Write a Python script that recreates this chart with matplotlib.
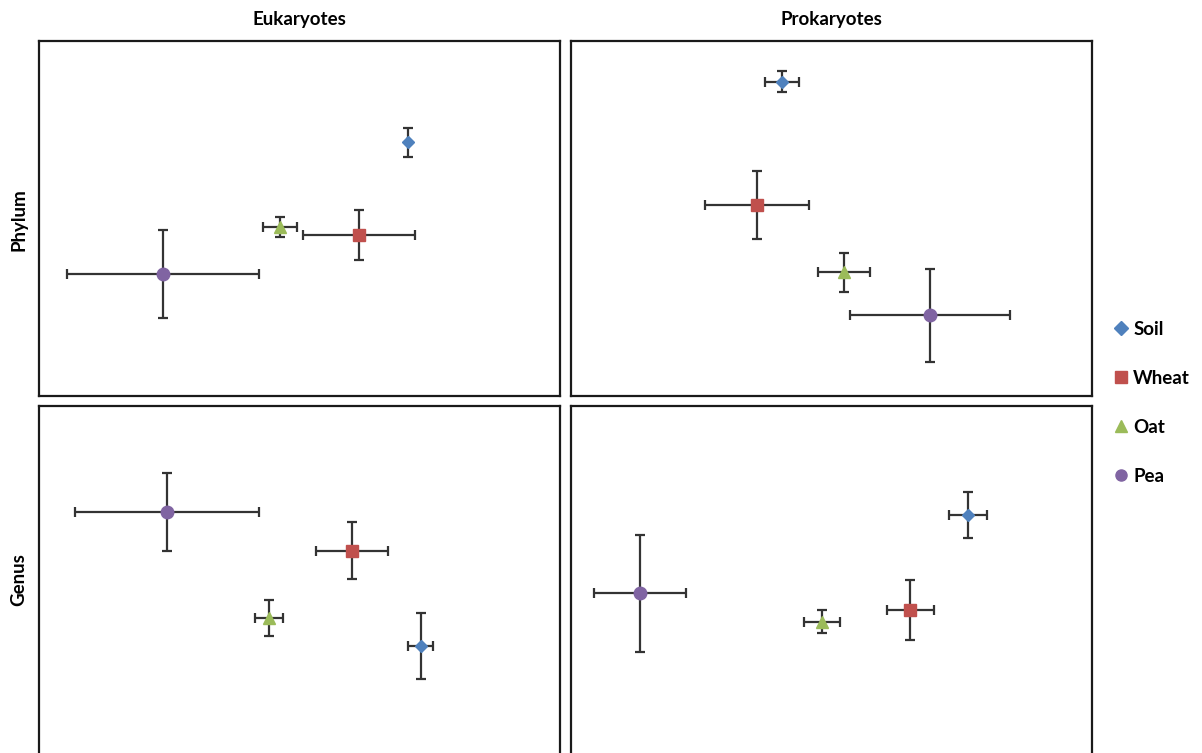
import numpy as np
import matplotlib.pyplot as plt
from matplotlib.lines import Line2D

plt.rcParams["font.family"] = ["Lato", "DejaVu Sans"]

# Samples and their marker styles
samples = ["Soil", "Wheat", "Oat", "Pea"]
colors = ["#4F81BD", "#C0504D", "#9BBB59", "#8064A2"]
markers = ["D", "s", "^", "o"]
msizes = [6, 8, 8, 9]

# Ordination scores (x, y) with standard errors, per panel, in sample order
phylum_euk_x = [70.8, 61.4, 46.3, 23.8]
phylum_euk_y = [71.5, 45.4, 47.6, 34.4]
phylum_euk_xerr = [0.0, 10.7, 3.3, 18.4]
phylum_euk_yerr = [4.1, 7.0, 2.8, 12.4]

phylum_pro_x = [40.5, 35.7, 52.4, 68.9]
phylum_pro_y = [88.5, 53.8, 34.9, 22.8]
phylum_pro_xerr = [3.3, 10.0, 5.0, 15.4]
phylum_pro_yerr = [3.0, 9.7, 5.5, 13.1]

genus_euk_x = [73.3, 60.1, 44.1, 24.6]
genus_euk_y = [32.4, 59.2, 40.3, 70.1]
genus_euk_xerr = [2.4, 6.9, 2.7, 17.6]
genus_euk_yerr = [9.2, 8.0, 5.1, 11.0]

genus_pro_x = [76.2, 65.1, 48.2, 13.2]
genus_pro_y = [69.3, 42.5, 39.2, 47.3]
genus_pro_xerr = [3.6, 4.5, 3.5, 8.8]
genus_pro_yerr = [6.6, 8.5, 3.2, 16.5]

panels = [
    (phylum_euk_x, phylum_euk_y, phylum_euk_xerr, phylum_euk_yerr),
    (phylum_pro_x, phylum_pro_y, phylum_pro_xerr, phylum_pro_yerr),
    (genus_euk_x, genus_euk_y, genus_euk_xerr, genus_euk_yerr),
    (genus_pro_x, genus_pro_y, genus_pro_xerr, genus_pro_yerr),
]

W, H = 1202, 753
fig = plt.figure(figsize=(W / 100, H / 100), dpi=100)

# panel rectangles in pixels: left, top, width, height
rects = [
    (39, 41, 521, 355),
    (571, 41, 521, 355),
    (39, 406, 521, 355),
    (571, 406, 521, 355),
]

for (l, t, w, h), (xs, ys, xe, ye) in zip(rects, panels):
    ax = fig.add_axes([l / W, 1 - (t + h) / H, w / W, h / H])
    ax.set_xlim(0, 100)
    ax.set_ylim(0, 100)
    ax.set_xticks([])
    ax.set_yticks([])
    for s in ax.spines.values():
        s.set_color("#1a1a1a")
        s.set_linewidth(1.6)
    for i in range(len(samples)):
        ax.errorbar(xs[i], ys[i], xerr=xe[i], yerr=ye[i], fmt="none",
                    ecolor="#333333", elinewidth=1.6, capsize=3.5,
                    capthick=1.6, zorder=2)
        ax.plot(xs[i], ys[i], marker=markers[i], color=colors[i],
                markersize=msizes[i], linestyle="none", zorder=3)

# column and row labels
fig.text(299 / W, 1 - 20 / H, "Eukaryotes", ha="center", va="center",
         fontsize=13.5, fontweight="bold")
fig.text(831 / W, 1 - 20 / H, "Prokaryotes", ha="center", va="center",
         fontsize=13.5, fontweight="bold")
fig.text(19 / W, 1 - 220 / H, "Phylum", ha="center", va="center",
         rotation=90, fontsize=13.5, fontweight="bold")
fig.text(19 / W, 1 - 580 / H, "Genus", ha="center", va="center",
         rotation=90, fontsize=13.5, fontweight="bold")

handles = [Line2D([], [], marker=m, color=c, linestyle="none", markersize=ms)
           for m, c, ms in zip(markers, colors, [7, 8, 8, 8])]
leg = fig.legend(handles, samples, loc="upper left",
                 bbox_to_anchor=(1090 / W, 1 - 304 / H), frameon=False,
                 labelspacing=1.7, handletextpad=-0.1, handlelength=1.5,
                 prop={"weight": "bold", "size": 13.5})

fig.savefig("out.png", dpi=100)
